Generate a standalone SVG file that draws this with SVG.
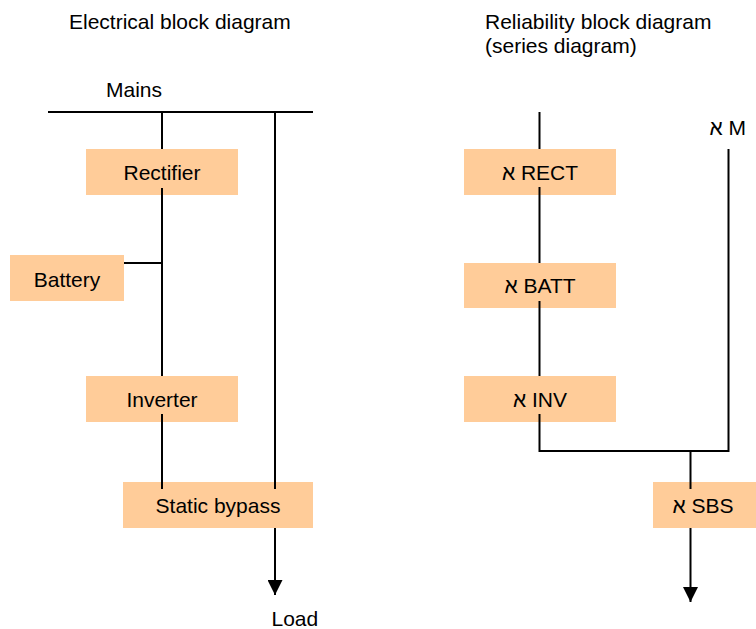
<svg xmlns="http://www.w3.org/2000/svg" width="756" height="629" viewBox="0 0 756 629">
<defs>
<style>
text{font-family:"Liberation Sans","DejaVu Sans",Arial,sans-serif;font-size:21px;fill:#000}
.box{fill:#FFCC99;stroke:none}
.c{text-anchor:middle}
.ln{stroke:#000;stroke-width:2;fill:none}
</style>
<marker id="arr" markerUnits="userSpaceOnUse" markerWidth="15" markerHeight="15" refX="15" refY="7.5" orient="auto">
<path d="M0,0 L15,7.5 L0,15 z" fill="#000"/>
</marker>
</defs>
<rect width="756" height="629" fill="#fff"/>
<g id="titles">
<text x="69" y="29">Electrical block diagram</text>
<text x="485" y="29">Reliability block diagram</text>
<text x="485" y="53">(series diagram)</text>
<text x="134" y="97" class="c">Mains</text>
<text x="271.5" y="626">Load</text>
<text x="746" y="135" text-anchor="end">א M</text>
</g>
<g id="rectifier"><rect class="box" x="86" y="149" width="152" height="46"/><text x="162" y="180" class="c">Rectifier</text></g>
<g id="battery"><rect class="box" x="10" y="255" width="114" height="46"/><text x="67" y="287" class="c">Battery</text></g>
<g id="inverter"><rect class="box" x="86" y="376" width="152" height="46"/><text x="162" y="407" class="c">Inverter</text></g>
<g id="static-bypass"><rect class="box" x="123" y="482" width="190" height="46"/><text x="218" y="513" class="c">Static bypass</text></g>
<g id="rect"><rect class="box" x="464" y="149" width="152" height="46"/><text x="540" y="180" class="c">א RECT</text></g>
<g id="batt"><rect class="box" x="464" y="263" width="152" height="45"/><text x="540" y="293" class="c">א BATT</text></g>
<g id="inv"><rect class="box" x="464" y="376" width="152" height="46"/><text x="540" y="407" class="c">א INV</text></g>
<g id="sbs"><rect class="box" x="653" y="482" width="105" height="46"/><text x="703" y="513" class="c">א SBS</text></g>
<g id="connectors" class="ln">
<line class="ln" x1="48" y1="112" x2="313" y2="112"/>
<line class="ln" x1="162" y1="112" x2="162" y2="149"/>
<line class="ln" x1="162" y1="188" x2="162" y2="376"/>
<line class="ln" x1="124" y1="263" x2="162" y2="263"/>
<line class="ln" x1="162" y1="414" x2="162" y2="489"/>
<line class="ln" x1="275" y1="112" x2="275" y2="489"/>
<line class="ln" x1="275" y1="528" x2="275" y2="595" marker-end="url(#arr)"/>
<line class="ln" x1="539.5" y1="112" x2="539.5" y2="149"/>
<line class="ln" x1="539.5" y1="187" x2="539.5" y2="263"/>
<line class="ln" x1="539.5" y1="301" x2="539.5" y2="376"/>
<polyline class="ln" points="539.5,414 539.5,451 728.5,451 728.5,149"/>
<line class="ln" x1="690.5" y1="451" x2="690.5" y2="489"/>
<line class="ln" x1="690.5" y1="528" x2="690.5" y2="602" marker-end="url(#arr)"/>
</g>
</svg>
